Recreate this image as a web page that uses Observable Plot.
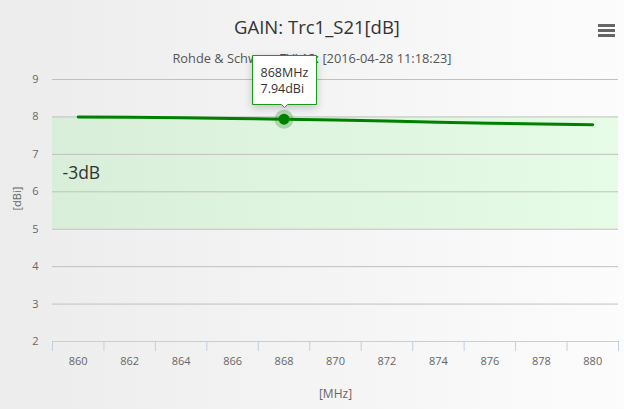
<!DOCTYPE html>
<html>
<head>
<meta charset="utf-8">
<script src="https://cdn.jsdelivr.net/npm/d3@7"></script>
<script src="https://cdn.jsdelivr.net/npm/@observablehq/plot@0.6"></script>
<style>
  html, body { margin: 0; padding: 0; }
  #wrap {
    position: relative; width: 624px; height: 409px; overflow: hidden;
    background: linear-gradient(to right, #ececec, #fcfcfc);
    font-family: "Open Sans", "DejaVu Sans", sans-serif;
  }
  #title {
    position: absolute; left: 0; top: 14px; width: 634px; text-align: center;
    font-size: 18.5px; color: #333;
  }
  #subtitle {
    position: absolute; left: 0; top: 49px; width: 624px; text-align: center;
    font-size: 12.8px; color: #555;
  }
  #menu { position: absolute; left: 598px; top: 24px; width: 17px; }
  #menu div { height: 3px; background: #666; margin-bottom: 2px; }
  #chart { position: absolute; left: 0; top: 0; }
</style>
</head>
<body>
<div id="wrap">
  <div id="title">GAIN: Trc1_S21[dB]</div>
  <div id="subtitle">Rohde &amp; Schwarz ZVL13: [2016-04-28 11:18:23]</div>
  <div id="menu"><div></div><div></div><div></div></div>
  <div id="chart"></div>
</div>
<script>
// Data
const categories = [860, 862, 864, 866, 868, 870, 872, 874, 876, 878, 880];
const gain = [8.00, 7.99, 7.98, 7.96, 7.94, 7.92, 7.89, 7.86, 7.83, 7.81, 7.79];
const yTicks = [2, 3, 4, 5, 6, 7, 8, 9];
const bandFrom = 5;
const bandTo = 8;
const bandLabel = "-3dB";
const tipIndex = 4;
const xTitle = "[MHz]";
const yTitle = "[dBi]";

const step = categories[1] - categories[0];
const boundaries = categories.map(c => c - step / 2).concat([categories[categories.length - 1] + step / 2]);
const series = categories.map((f, i) => ({f, v: gain[i]}));
const tipData = [series[tipIndex]];

const chart = Plot.plot({
  width: 624,
  height: 409,
  marginLeft: 52,
  marginRight: 6,
  marginTop: 79,
  marginBottom: 68,
  style: {background: "transparent", color: "#333", fontFamily: "'Open Sans', 'DejaVu Sans', sans-serif", overflow: "visible"},
  x: {domain: [boundaries[0], boundaries[boundaries.length - 1]]},
  y: {domain: [yTicks[0], yTicks[yTicks.length - 1]]},
  marks: [
    Plot.rect([{a: bandFrom, b: bandTo}], {y1: "a", y2: "b", fill: "rgb(0,255,0)", fillOpacity: 0.085}),
    Plot.gridY(yTicks.slice(1), {stroke: "#c0c0c0", strokeOpacity: 1}),
    Plot.axisY(yTicks, {tickSize: 0, tickPadding: 14, color: "#666", fontSize: 11, label: null}),
    Plot.ruleY([yTicks[0]], {stroke: "#c0d0e0"}),
    Plot.axisX(boundaries, {tickSize: 10, tickFormat: () => "", stroke: "#c0d0e0", strokeOpacity: 1, label: null}),
    Plot.axisX(categories, {tickSize: 0, tickPadding: 16, tickFormat: d => String(d), color: "#666", fontSize: 11, label: null}),
    Plot.text([yTitle], {frameAnchor: "left", dx: -35, rotate: -90, fill: "#666", fontSize: 11}),
    Plot.text([xTitle], {frameAnchor: "bottom", dy: 56, fill: "#666", fontSize: 12}),
    Plot.text([bandLabel], {frameAnchor: "left", y: () => (bandFrom + bandTo) / 2, dx: 10, textAnchor: "start", fill: "#333", fontSize: 17.5}),
    Plot.line(series, {x: "f", y: "v", stroke: "#008000", strokeWidth: 3}),
    Plot.dot(tipData, {x: "f", y: "v", r: 9.5, fill: "#008000", fillOpacity: 0.25}),
    Plot.dot(tipData, {x: "f", y: "v", r: 5.5, fill: "#008000"}),
    Plot.tip(tipData, {
      x: "f", y: "v",
      title: d => `${d.f}MHz\n${d.v.toFixed(2)}dBi`,
      anchor: "bottom", dy: -12, pointerSize: 6,
      fill: "white", stroke: "#1a9a1a", strokeWidth: 1,
      fontSize: 12.5, lineHeight: 1.25, textPadding: 8
    })
  ]
});
// drop the empty label texts of the boundary tick axis
chart.querySelectorAll("text").forEach(t => { if (t.textContent.trim() === "") t.remove(); });
document.getElementById("chart").appendChild(chart);
</script>
</body>
</html>
